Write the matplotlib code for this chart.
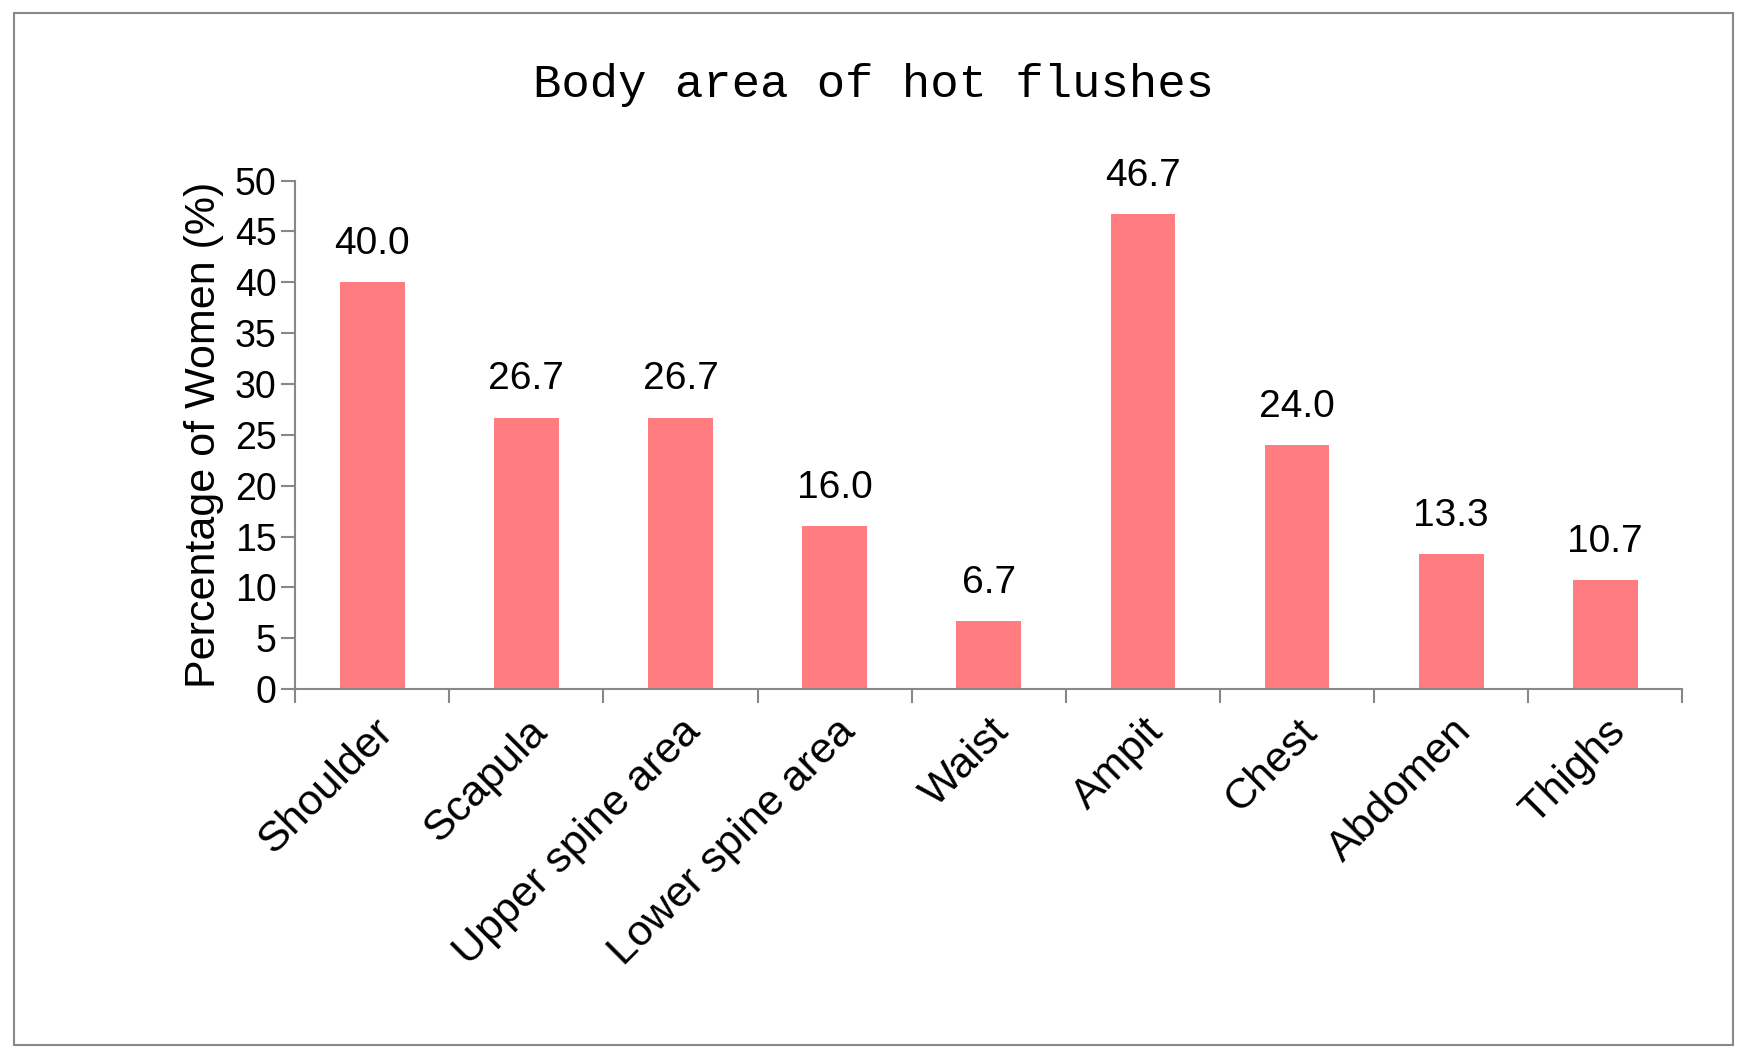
import matplotlib.pyplot as plt
from matplotlib.patches import Rectangle

categories = ["Shoulder", "Scapula", "Upper spine area", "Lower spine area",
              "Waist", "Ampit", "Chest", "Abdomen", "Thighs"]
values = [40.0, 26.7, 26.7, 16.0, 6.7, 46.7, 24.0, 13.3, 10.7]
yticks = [0, 5, 10, 15, 20, 25, 30, 35, 40, 45, 50]

fig = plt.figure(figsize=(17.47, 10.62), dpi=100)
fig.patches.append(Rectangle((0.008, 0.016), 0.984, 0.972, transform=fig.transFigure,
                             fill=False, edgecolor="#888888", lw=1.5))
ax = fig.add_axes([0.169, 0.351, 0.794, 0.479])

x = range(len(categories))
bars = ax.bar(x, values, width=0.42, color="#FF7C80")
for b, v in zip(bars, values):
    ax.text(b.get_x() + b.get_width() / 2, v + 2.0, "%.1f" % v, ha="center",
            va="bottom", fontsize=28, family="Liberation Sans")

ax.set_xlim(-0.5, len(categories) - 0.5)
ax.set_ylim(0, 50)
ax.set_yticks(yticks)
ax.tick_params(axis="y", labelsize=27, length=10, color="#888888", width=1.5)
for lab in ax.get_yticklabels():
    lab.set_family("Liberation Sans")
ax.set_xticks(list(x))
ax.set_xticklabels(categories, rotation=45, ha="right", rotation_mode="anchor",
                   fontsize=31, family="Liberation Sans")
ax.tick_params(axis="x", which="major", length=0, pad=16)
ax.set_xticks([i - 0.5 for i in range(len(categories) + 1)], minor=True)
ax.tick_params(axis="x", which="minor", length=10, color="#888888", width=1.5)
for s in ["top", "right"]:
    ax.spines[s].set_visible(False)
for s in ["left", "bottom"]:
    ax.spines[s].set_color("#888888")
    ax.spines[s].set_linewidth(1.5)

ax.set_ylabel("Percentage of Women (%)", fontsize=31, family="Liberation Sans", labelpad=8)
fig.text(0.5, 0.92, "Body area of hot flushes", ha="center", va="center",
         fontsize=34, family="Liberation Mono")

fig.savefig("out.png")
